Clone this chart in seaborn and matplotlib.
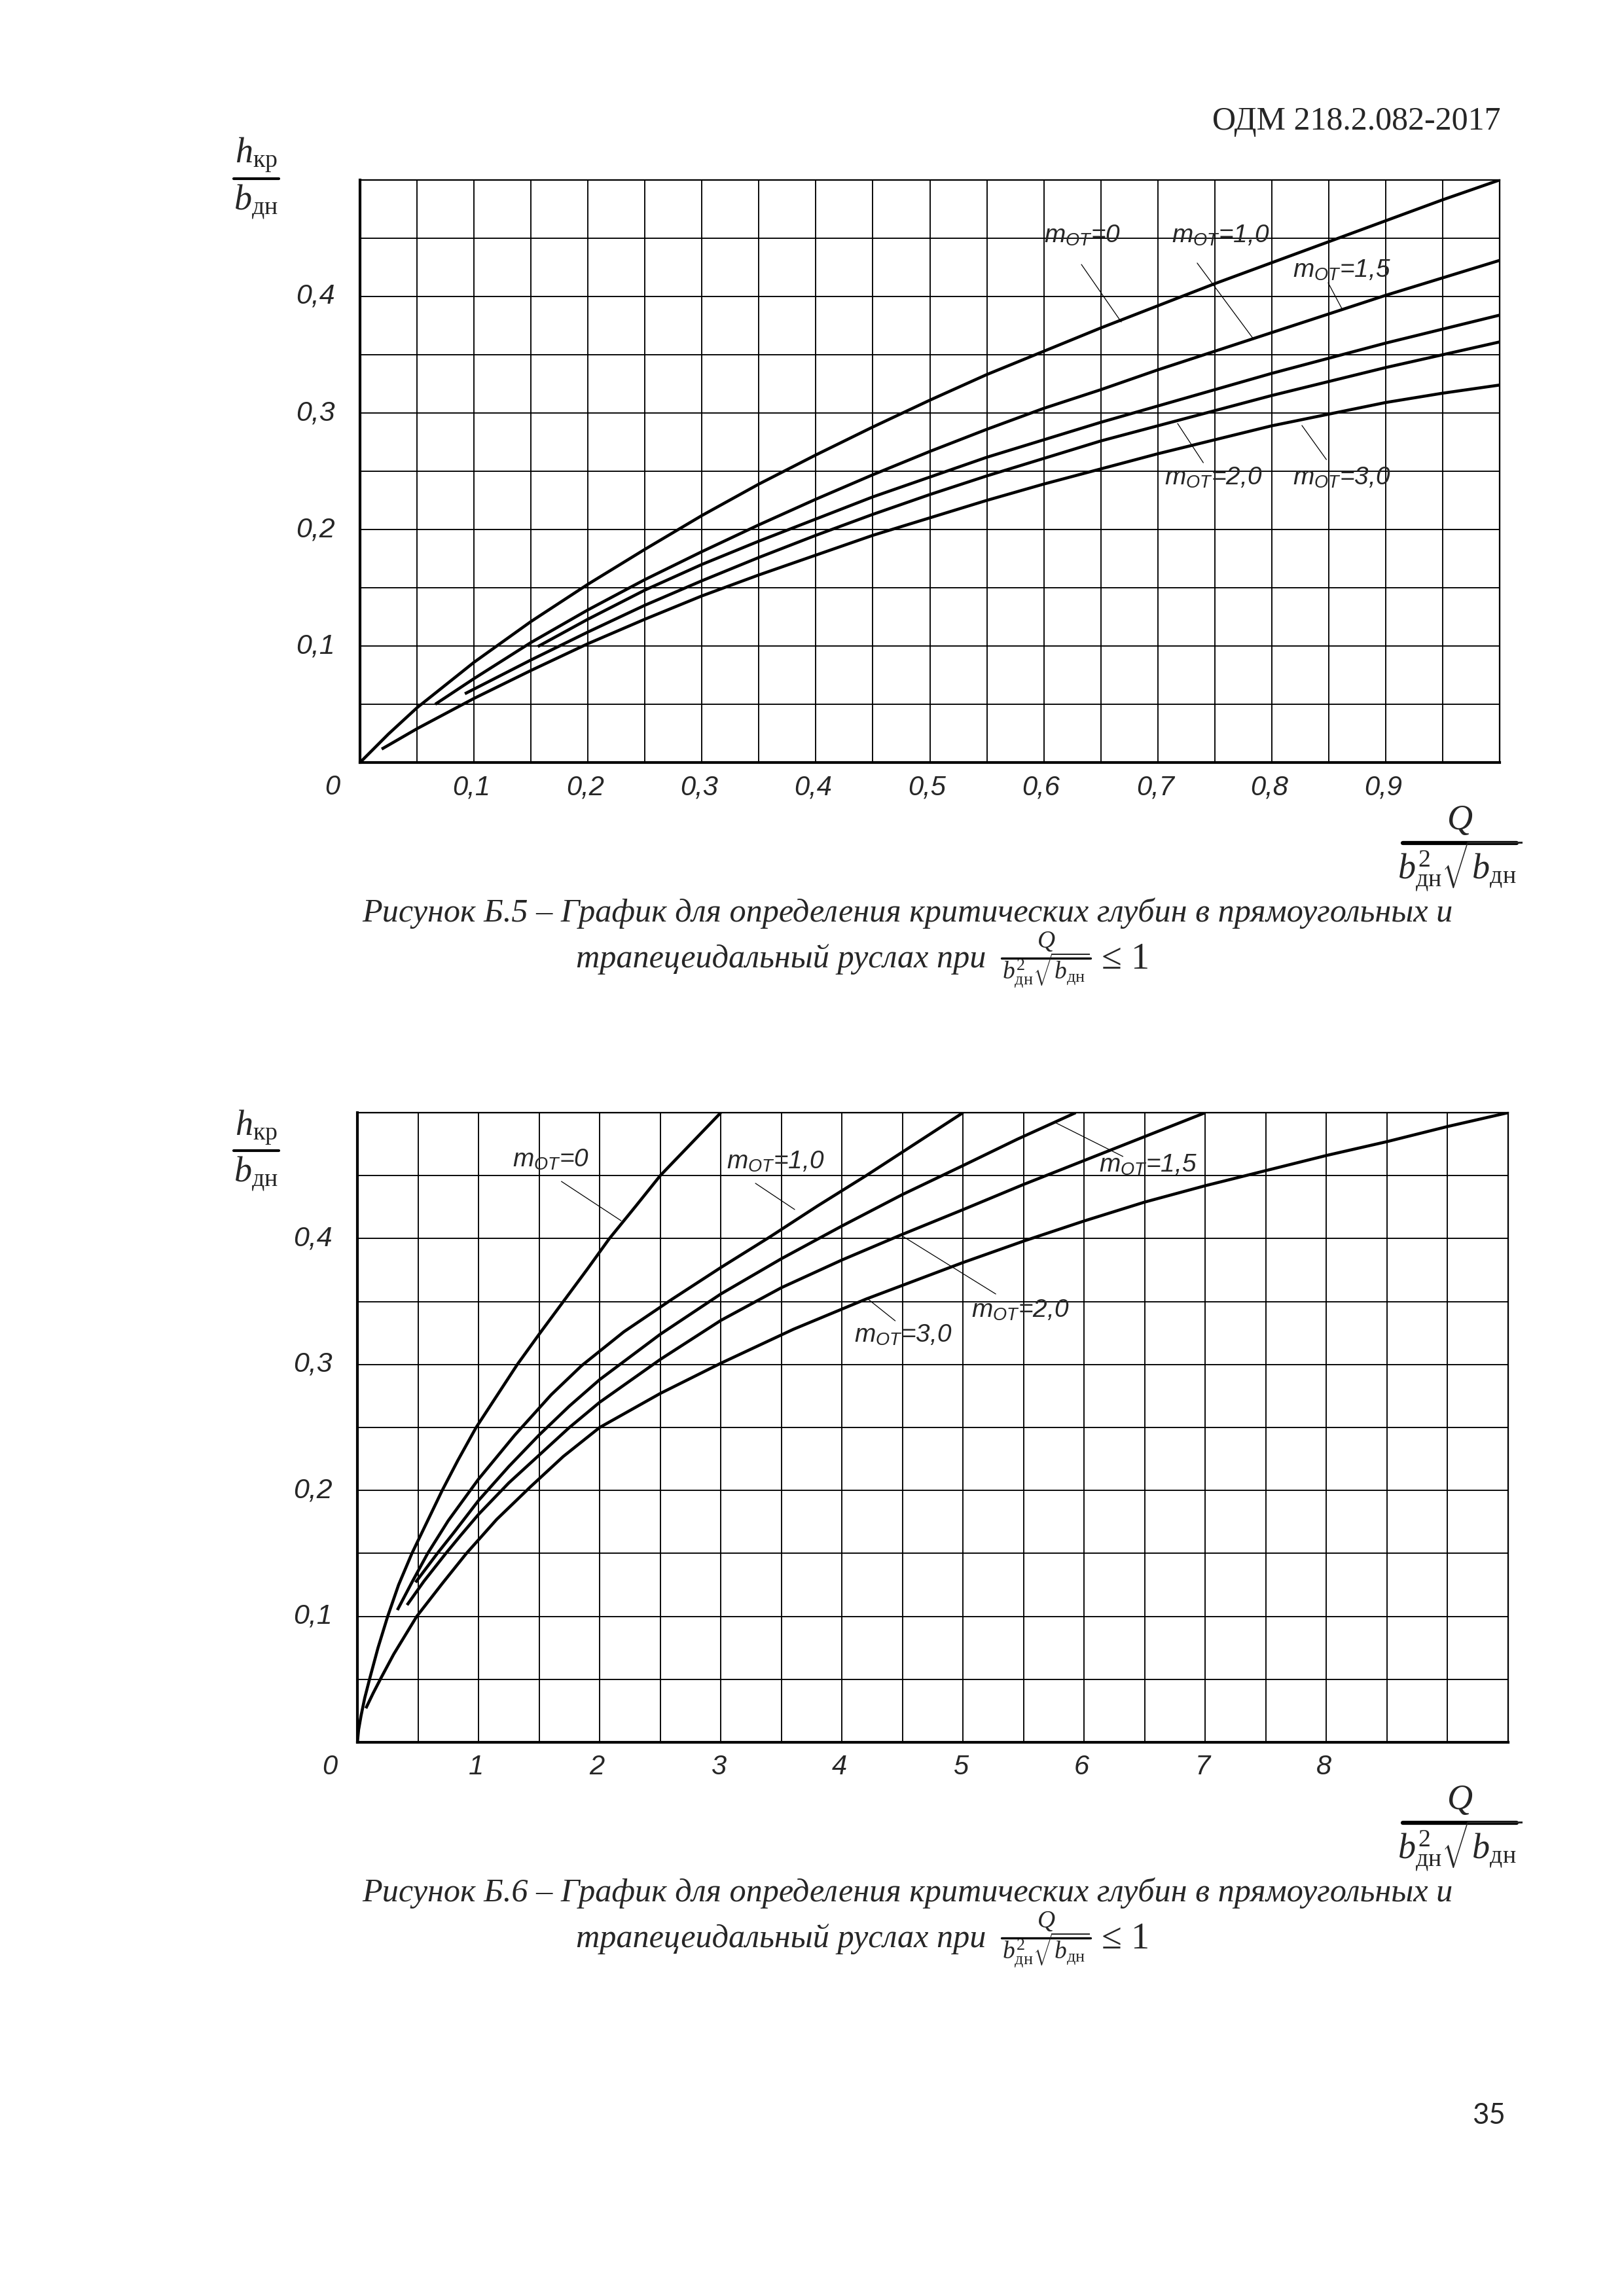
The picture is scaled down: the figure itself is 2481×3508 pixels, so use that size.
import numpy as np
import pandas as pd
import matplotlib
matplotlib.use("Agg")
import matplotlib.pyplot as plt
import seaborn as sns
from matplotlib.transforms import blended_transform_factory, ScaledTranslation
from matplotlib.lines import Line2D

# ---------------- data: Figure B.5 (Q/(b^2 sqrt b) <= 1) ----------------
b5_m0_x = [0, 0.025, 0.05, 0.1, 0.15, 0.2, 0.25, 0.3, 0.35, 0.4, 0.45, 0.5, 0.55, 0.6, 0.65, 0.7, 0.75, 0.8, 0.85, 0.9, 0.95, 1.0]
b5_m0_y = [0, 0.0245, 0.047, 0.086, 0.121, 0.153, 0.183, 0.212, 0.239, 0.264, 0.288, 0.311, 0.333, 0.353, 0.373, 0.392, 0.411, 0.429, 0.447, 0.465, 0.483, 0.5]
b5_m10_x = [0.066, 0.1, 0.15, 0.2, 0.25, 0.3, 0.35, 0.4, 0.45, 0.5, 0.55, 0.6, 0.65, 0.7, 0.75, 0.8, 0.85, 0.9, 0.95, 1.0]
b5_m10_y = [0.050, 0.072, 0.103, 0.131, 0.157, 0.181, 0.204, 0.226, 0.247, 0.267, 0.286, 0.304, 0.320, 0.337, 0.353, 0.369, 0.385, 0.401, 0.416, 0.431]
b5_m15_x = [0.156, 0.2, 0.25, 0.3, 0.35, 0.4, 0.45, 0.5, 0.55, 0.6, 0.65, 0.7, 0.75, 0.8, 0.85, 0.9, 0.95, 1.0]
b5_m15_y = [0.0995, 0.123, 0.148, 0.170, 0.190, 0.209, 0.228, 0.245, 0.262, 0.277, 0.292, 0.306, 0.320, 0.334, 0.347, 0.360, 0.372, 0.384]
b5_m20_x = [0.092, 0.15, 0.2, 0.25, 0.3, 0.35, 0.4, 0.45, 0.5, 0.55, 0.6, 0.65, 0.7, 0.75, 0.8, 0.85, 0.9, 0.95, 1.0]
b5_m20_y = [0.059, 0.088, 0.112, 0.135, 0.156, 0.176, 0.195, 0.213, 0.230, 0.246, 0.261, 0.276, 0.289, 0.302, 0.315, 0.327, 0.339, 0.350, 0.361]
b5_m30_x = [0.019, 0.05, 0.1, 0.15, 0.2, 0.25, 0.3, 0.35, 0.4, 0.45, 0.5, 0.55, 0.6, 0.65, 0.7, 0.75, 0.8, 0.85, 0.9, 0.95, 1.0]
b5_m30_y = [0.0115, 0.029, 0.055, 0.079, 0.102, 0.123, 0.143, 0.161, 0.178, 0.195, 0.210, 0.225, 0.239, 0.252, 0.265, 0.277, 0.289, 0.299, 0.309, 0.317, 0.324]

b5_xticks = [0, 0.1, 0.2, 0.3, 0.4, 0.5, 0.6, 0.7, 0.8, 0.9]
b5_xticklabels = ["0", "0,1", "0,2", "0,3", "0,4", "0,5", "0,6", "0,7", "0,8", "0,9"]

# ---------------- data: Figure B.6 ----------------
b6_m0_x = [0, 0.01, 0.03, 0.06, 0.1, 0.17, 0.25, 0.34, 0.45, 0.56, 0.7, 0.83, 0.98, 1.15, 1.32,
           1.5, 1.7, 1.9, 2.08, 2.3, 2.5, 2.75, 3.0]
b6_m0_y = [0, 0.010, 0.021, 0.035, 0.05, 0.075, 0.1, 0.125, 0.15, 0.172, 0.2, 0.224, 0.25, 0.275, 0.3,
           0.324, 0.35, 0.376, 0.4, 0.426, 0.45, 0.475, 0.5]
b6_m10_x = [0.33, 0.45, 0.58, 0.75, 1.0, 1.3, 1.6, 1.85, 2.2, 2.6, 3.0, 3.4, 3.8, 4.2, 4.6, 5.0]
b6_m10_y = [0.105, 0.127, 0.15, 0.176, 0.209, 0.244, 0.276, 0.299, 0.326, 0.352, 0.377, 0.401, 0.426, 0.45, 0.475, 0.5]
b6_m15_x = [0.48, 0.66, 0.8, 1.0, 1.25, 1.5, 1.75, 2.0, 2.5, 3.0, 3.5, 4.0, 4.5, 5.0, 5.45, 5.93]
b6_m15_y = [0.127, 0.15, 0.167, 0.192, 0.219, 0.244, 0.267, 0.288, 0.324, 0.356, 0.384, 0.41, 0.435, 0.458, 0.479, 0.5]
b6_m20_x = [0.41, 0.55, 0.73, 0.85, 1.0, 1.25, 1.5, 1.75, 2.0, 2.5, 3.0, 3.5, 4.0, 4.49, 5.0, 5.5, 6.0, 6.5, 7.0]
b6_m20_y = [0.109, 0.128, 0.15, 0.164, 0.181, 0.206, 0.228, 0.25, 0.27, 0.304, 0.335, 0.361, 0.383, 0.403, 0.423,
            0.443, 0.462, 0.481, 0.5]
b6_m30_x = [0.07, 0.13, 0.2, 0.3, 0.49, 0.7, 0.9, 1.15, 1.43, 1.7, 2.0, 2.5, 3.0, 3.6, 4.2, 5.0, 5.5, 6.0,
            6.5, 7.0, 7.5, 8.0, 8.5, 9.0, 9.5]
b6_m30_y = [0.027, 0.039, 0.052, 0.07, 0.1, 0.126, 0.15, 0.177, 0.203, 0.227, 0.25, 0.277, 0.301, 0.328, 0.352,
            0.381, 0.398, 0.414, 0.429, 0.442, 0.454, 0.466, 0.477, 0.489, 0.5]

b6_xticks = [0, 1, 2, 3, 4, 5, 6, 7, 8]
b6_xticklabels = ["0", "1", "2", "3", "4", "5", "6", "7", "8"]

yticks = [0.1, 0.2, 0.3, 0.4]
yticklabels = ["0,1", "0,2", "0,3", "0,4"]

curve_names = ["m=0", "m=1,0", "m=1,5", "m=2,0", "m=3,0"]
label_texts = [r"$\mathsf{m}_{\mathsf{OT}}$=0", r"$\mathsf{m}_{\mathsf{OT}}$=1,0",
               r"$\mathsf{m}_{\mathsf{OT}}$=1,5", r"$\mathsf{m}_{\mathsf{OT}}$=2,0",
               r"$\mathsf{m}_{\mathsf{OT}}$=3,0"]
# label anchor (text left/baseline) and leader line (from, to) in data units
b5_label_pos = [(0.600, 0.4466), (0.712, 0.4466), (0.8185, 0.4169), (0.706, 0.2388), (0.8185, 0.2388)]
b5_leaders = [((0.633, 0.4275), (0.668, 0.3781)), ((0.7346, 0.4287), (0.784, 0.3635)),
              ((0.8495, 0.4118), (0.862, 0.3888)), ((0.7174, 0.291), (0.740, 0.2573)),
              ((0.8265, 0.2893), (0.848, 0.260))]
b6_label_pos = [(1.281, 0.4574), (3.049, 0.4558), (6.12, 0.4532), (5.07, 0.3378), (4.10, 0.318)]
b6_leaders = [((1.684, 0.4454), (2.177, 0.4142)), ((3.286, 0.4439), (3.61, 0.4231)),
              ((6.32, 0.4652), (5.76, 0.4922)), ((5.27, 0.356), (4.486, 0.4028)),
              ((4.44, 0.3347), (4.216, 0.3519))]

caption1_b5 = "Рисунок Б.5 – График для определения критических глубин в прямоугольных и"
caption1_b6 = "Рисунок Б.6 – График для определения критических глубин в прямоугольных и"
caption2 = "трапецеидальный руслах при"
header_text = "ОДМ 218.2.082-2017"
page_number = "35"

# ---------------- styling ----------------
sns.set_theme(style="white")
plt.rcParams["font.family"] = ["Liberation Serif", "DejaVu Serif"]
plt.rcParams["mathtext.fontset"] = "custom"
plt.rcParams["mathtext.rm"] = "Liberation Serif"
plt.rcParams["mathtext.it"] = "Liberation Serif:italic"
plt.rcParams["mathtext.bf"] = "Liberation Serif:bold"
plt.rcParams["mathtext.sf"] = "Liberation Sans:italic"

W, H, DPI = 2481, 3508, 300
def fx(px):
    return px / W
def fy(py):
    return 1 - py / H

fig = plt.figure(figsize=(W / DPI, H / DPI), dpi=DPI)
fig.patch.set_facecolor("white")

SANS = ["Liberation Sans", "DejaVu Sans"]


def draw_panel(ax, curves, xmax, xstep, xticks, xticklabels, label_pos, leaders):
    frames = []
    for name, (xs, ys) in zip(curve_names, curves):
        frames.append(pd.DataFrame({"X": xs, "Y": ys, "curve": name}))
    df = pd.concat(frames, ignore_index=True)
    sns.lineplot(data=df, x="X", y="Y", units="curve", estimator=None, sort=False,
                 color="black", lw=1.1, ax=ax, legend=False, zorder=3)
    for ln in ax.get_lines():
        ln.set_solid_joinstyle("round")
        ln.set_solid_capstyle("butt")
    ax.set_xlim(0, xmax)
    ax.set_ylim(0, 0.5)
    ax.set_xticks(np.arange(0, xmax + 1e-9, xstep))
    ax.set_yticks(np.arange(0, 0.5 + 1e-9, 0.05))
    ax.tick_params(length=0, labelbottom=False, labelleft=False)
    ax.set_xlabel("")
    ax.set_ylabel("")
    ax.grid(True, color="black", lw=0.45)
    ax.set_axisbelow(True)
    ax.set_facecolor("white")
    for side in ["left", "bottom"]:
        ax.spines[side].set_linewidth(1.0)
        ax.spines[side].set_color("black")
    for side in ["top", "right"]:
        ax.spines[side].set_linewidth(0.55)
        ax.spines[side].set_color("black")

    tr_x = blended_transform_factory(ax.transData, ax.transAxes)
    for v, lab in zip(xticks, xticklabels):
        dx = -42 / DPI if v == 0 else -4 / DPI
        ax.text(v, 0, lab, transform=tr_x + ScaledTranslation(dx, -38 / DPI, fig.dpi_scale_trans),
                ha="center", va="center", fontsize=10, style="italic", family=SANS)
    tr_y = blended_transform_factory(ax.transAxes, ax.transData)
    for v, lab in zip(yticks, yticklabels):
        ax.text(0, v, lab, transform=tr_y + ScaledTranslation(-38 / DPI, 0, fig.dpi_scale_trans),
                ha="right", va="center", fontsize=10.3, style="italic", family=SANS)

    for txt, (lx, ly), ((x0, y0), (x1, y1)) in zip(label_texts, label_pos, leaders):
        ax.text(lx, ly, txt, ha="left", va="baseline", fontsize=9.3, style="italic", family=SANS, zorder=4)
        ax.plot([x0, x1], [y0, y1], color="black", lw=0.3, zorder=4)


def hbar(x0, x1, y, lw):
    fig.add_artist(Line2D([fx(x0), fx(x1)], [fy(y), fy(y)], color="black", lw=lw,
                          transform=fig.transFigure))


def ylabel_fraction(bar_y):
    fig.text(fx(391), fy(bar_y - 24), r"$h_{\mathrm{кр}}$", ha="center", va="baseline", fontsize=13)
    hbar(357, 426, bar_y, 1.0)
    fig.text(fx(391), fy(bar_y + 47), r"$b_{\mathrm{дн}}$", ha="center", va="baseline", fontsize=13)


def xlabel_fraction(axes_bottom):
    fig.text(fx(2230), fy(axes_bottom + 102), r"$Q$", ha="center", va="baseline", fontsize=13)
    hbar(2143, 2317, axes_bottom + 123, 1.5)
    fig.text(fx(2230), fy(axes_bottom + 177), r"$b^{2}_{\mathrm{дн}}\sqrt{b_{\mathrm{дн}}}$",
             ha="center", va="baseline", fontsize=13)


def caption(axes_bottom, line1):
    t1 = fig.text(fx(1386), fy(axes_bottom + 243), line1, ha="center", va="baseline",
                  fontsize=14, style="italic")
    t2 = fig.text(fx(1506), fy(axes_bottom + 313), caption2, ha="right", va="baseline",
                  fontsize=14, style="italic")
    fig.text(fx(1598), fy(axes_bottom + 283), r"$Q$", ha="center", va="baseline", fontsize=9)
    hbar(1530, 1666, axes_bottom + 299, 0.8)
    fig.text(fx(1598), fy(axes_bottom + 330), r"$b^{2}_{\mathrm{дн}}\sqrt{b_{\mathrm{дн}}}$",
             ha="center", va="baseline", fontsize=9)
    fig.text(fx(1683), fy(axes_bottom + 315), "≤ 1", ha="left", va="baseline", fontsize=13.5,
             family=["Liberation Serif", "DejaVu Serif"])
    return t1, t2


# ---------------- Figure B.5 ----------------
ax1 = fig.add_axes([fx(550), fy(1165), (2291 - 550) / W, (1165 - 275) / H])
draw_panel(ax1,
           [(b5_m0_x, b5_m0_y), (b5_m10_x, b5_m10_y), (b5_m15_x, b5_m15_y),
            (b5_m20_x, b5_m20_y), (b5_m30_x, b5_m30_y)],
           1.0, 0.05, b5_xticks, b5_xticklabels, b5_label_pos, b5_leaders)
ylabel_fraction(273)
xlabel_fraction(1165)
c5 = caption(1165, caption1_b5)

# ---------------- Figure B.6 ----------------
ax2 = fig.add_axes([fx(546), fy(2662), (2304 - 546) / W, (2662 - 1700) / H])
draw_panel(ax2,
           [(b6_m0_x, b6_m0_y), (b6_m10_x, b6_m10_y), (b6_m15_x, b6_m15_y),
            (b6_m20_x, b6_m20_y), (b6_m30_x, b6_m30_y)],
           9.5, 0.5, b6_xticks, b6_xticklabels, b6_label_pos, b6_leaders)
ylabel_fraction(1758)
xlabel_fraction(2662)
c6 = caption(2662, caption1_b6)

# ---------------- page furniture ----------------
fig.text(fx(2293), fy(198), header_text, ha="right", va="baseline", fontsize=12)
fig.text(fx(2300), fy(3245), page_number, ha="right", va="baseline", fontsize=10.5,
         family=["Lato", "DejaVu Sans"])

# fit caption line 1 to the reference width (~1667 px)
fig.canvas.draw()
r = fig.canvas.get_renderer()
w = c5[0].get_window_extent(r).width
scale = 1667.0 / w
for t in list(c5) + list(c6):
    t.set_fontsize(14 * scale)

fig.savefig("out.png", dpi=DPI, facecolor="white")
